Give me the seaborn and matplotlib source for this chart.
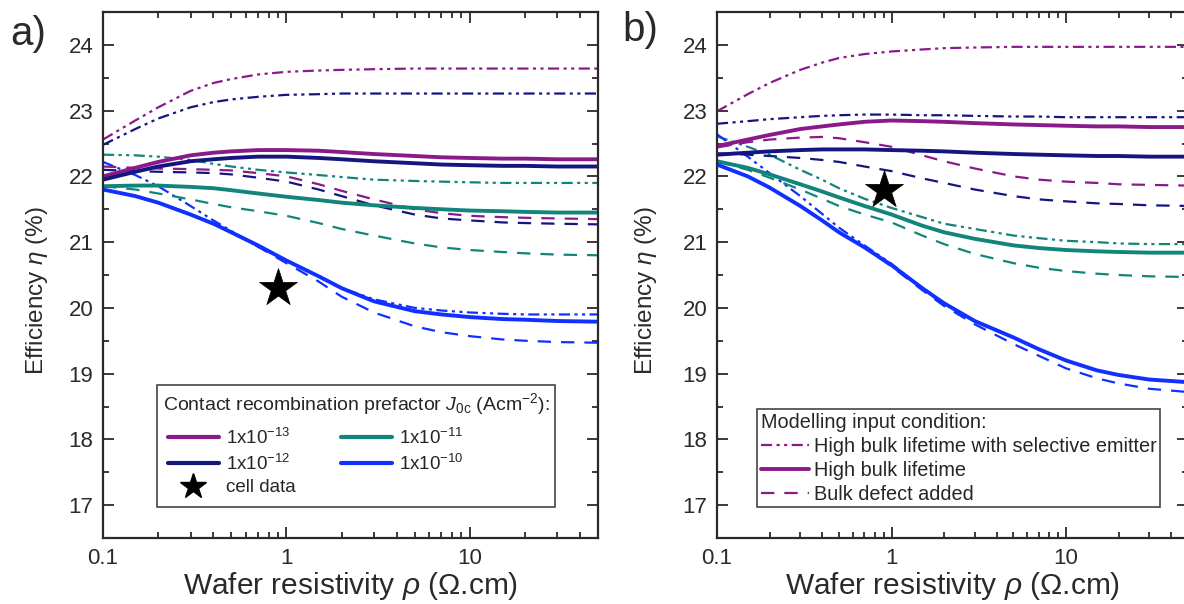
import matplotlib
matplotlib.use("Agg")
import matplotlib.pyplot as plt
from matplotlib.lines import Line2D
from matplotlib.ticker import MultipleLocator, FixedLocator, FixedFormatter, LogLocator, NullFormatter
import seaborn as sns
import pandas as pd

sns.set_theme(style="ticks")
plt.rcParams["font.family"] = ["Liberation Sans", "DejaVu Sans"]
plt.rcParams["mathtext.fontset"] = "custom"
plt.rcParams["mathtext.rm"] = "Liberation Sans"
plt.rcParams["mathtext.it"] = "Liberation Sans:italic"

# ---------------- data ----------------
rho = [0.1, 0.15, 0.2, 0.3, 0.4, 0.5, 0.7, 1, 1.5, 2, 3, 5, 7, 10, 15, 20, 30, 50]

# panel a) : se = high bulk lifetime with selective emitter, hb = high bulk lifetime, bd = bulk defect added
a_se_1e13 = [22.56, 22.85, 23.05, 23.30, 23.42, 23.48, 23.55, 23.59, 23.61, 23.62, 23.63, 23.64, 23.64, 23.64, 23.64, 23.64, 23.64, 23.64]
a_se_1e12 = [22.48, 22.72, 22.88, 23.05, 23.13, 23.17, 23.21, 23.24, 23.25, 23.26, 23.26, 23.26, 23.26, 23.26, 23.26, 23.26, 23.26, 23.26]
a_se_1e11 = [22.33, 22.32, 22.30, 22.25, 22.19, 22.15, 22.10, 22.06, 22.02, 21.99, 21.95, 21.93, 21.92, 21.91, 21.90, 21.90, 21.90, 21.90]
a_se_1e10 = [22.22, 22.02, 21.85, 21.55, 21.33, 21.17, 20.93, 20.72, 20.48, 20.30, 20.13, 20.00, 19.96, 19.93, 19.91, 19.90, 19.90, 19.90]

a_hb_1e13 = [22.00, 22.13, 22.22, 22.32, 22.36, 22.38, 22.40, 22.40, 22.39, 22.37, 22.34, 22.31, 22.29, 22.28, 22.27, 22.27, 22.26, 22.26]
a_hb_1e12 = [21.95, 22.07, 22.15, 22.23, 22.26, 22.28, 22.30, 22.30, 22.28, 22.26, 22.23, 22.20, 22.18, 22.17, 22.16, 22.16, 22.15, 22.15]
a_hb_1e11 = [21.85, 21.86, 21.86, 21.84, 21.82, 21.79, 21.74, 21.69, 21.64, 21.60, 21.56, 21.52, 21.50, 21.48, 21.47, 21.46, 21.45, 21.45]
a_hb_1e10 = [21.80, 21.70, 21.60, 21.42, 21.28, 21.15, 20.95, 20.72, 20.48, 20.30, 20.10, 19.95, 19.90, 19.86, 19.83, 19.82, 19.80, 19.79]

a_bd_1e13 = [22.15, 22.13, 22.12, 22.11, 22.10, 22.09, 22.05, 22.00, 21.88, 21.78, 21.65, 21.50, 21.44, 21.40, 21.38, 21.37, 21.36, 21.35]
a_bd_1e12 = [22.10, 22.08, 22.07, 22.06, 22.05, 22.03, 21.98, 21.92, 21.80, 21.70, 21.56, 21.42, 21.36, 21.33, 21.30, 21.29, 21.28, 21.27]
a_bd_1e11 = [21.85, 21.80, 21.74, 21.65, 21.58, 21.53, 21.47, 21.40, 21.29, 21.20, 21.10, 20.98, 20.92, 20.88, 20.85, 20.83, 20.81, 20.80]
a_bd_1e10 = [21.80, 21.70, 21.60, 21.42, 21.28, 21.15, 20.93, 20.68, 20.40, 20.17, 19.93, 19.72, 19.63, 19.57, 19.52, 19.50, 19.48, 19.47]

# panel b)
b_se_1e13 = [22.99, 23.25, 23.42, 23.62, 23.73, 23.80, 23.86, 23.90, 23.93, 23.95, 23.96, 23.97, 23.97, 23.97, 23.97, 23.97, 23.97, 23.97]
b_se_1e12 = [22.80, 22.84, 22.87, 22.90, 22.92, 22.93, 22.94, 22.94, 22.93, 22.93, 22.92, 22.91, 22.91, 22.90, 22.90, 22.90, 22.90, 22.90]
b_se_1e11 = [22.61, 22.45, 22.33, 22.10, 21.95, 21.82, 21.66, 21.52, 21.38, 21.28, 21.20, 21.10, 21.06, 21.02, 21.00, 20.98, 20.97, 20.97]
b_se_1e10 = [22.64, 22.30, 22.05, 21.70, 21.43, 21.22, 20.95, 20.67, 20.30, 20.07, 19.80, 19.55, 19.37, 19.20, 19.05, 18.98, 18.91, 18.87]

b_hb_1e13 = [22.46, 22.56, 22.63, 22.72, 22.76, 22.79, 22.83, 22.85, 22.84, 22.83, 22.81, 22.79, 22.78, 22.77, 22.76, 22.76, 22.75, 22.75]
b_hb_1e12 = [22.33, 22.36, 22.38, 22.40, 22.41, 22.41, 22.41, 22.40, 22.39, 22.38, 22.36, 22.34, 22.33, 22.32, 22.31, 22.31, 22.30, 22.30]
b_hb_1e11 = [22.23, 22.13, 22.03, 21.88, 21.77, 21.68, 21.55, 21.42, 21.25, 21.15, 21.05, 20.95, 20.91, 20.88, 20.86, 20.85, 20.84, 20.84]
b_hb_1e10 = [22.18, 22.00, 21.83, 21.55, 21.33, 21.15, 20.92, 20.65, 20.30, 20.07, 19.80, 19.55, 19.37, 19.20, 19.05, 18.98, 18.91, 18.87]

b_bd_1e13 = [22.44, 22.52, 22.56, 22.59, 22.60, 22.58, 22.52, 22.45, 22.32, 22.23, 22.12, 22.00, 21.95, 21.92, 21.90, 21.88, 21.87, 21.86]
b_bd_1e12 = [22.35, 22.33, 22.31, 22.28, 22.25, 22.22, 22.15, 22.08, 21.97, 21.90, 21.80, 21.70, 21.65, 21.62, 21.59, 21.58, 21.56, 21.55]
b_bd_1e11 = [22.23, 22.10, 21.98, 21.80, 21.66, 21.55, 21.42, 21.30, 21.10, 20.97, 20.82, 20.68, 20.61, 20.56, 20.52, 20.50, 20.48, 20.47]
b_bd_1e10 = [22.18, 22.00, 21.83, 21.55, 21.33, 21.15, 20.92, 20.63, 20.27, 20.03, 19.75, 19.45, 19.27, 19.08, 18.93, 18.85, 18.77, 18.72]

cell_rho_a = [0.9]
cell_eff_a = [20.3]
cell_rho_b = [0.9]
cell_eff_b = [21.8]

j0c_labels = ["1x10$^{-13}$", "1x10$^{-12}$", "1x10$^{-11}$", "1x10$^{-10}$"]
cond_labels = ["High bulk lifetime with selective emitter", "High bulk lifetime", "Bulk defect added"]
x_ticks = [0.1, 1, 10]
x_ticklabels = ["0.1", "1", "10"]
y_ticks = [17, 18, 19, 20, 21, 22, 23, 24]

# ---------------- style ----------------
colors = ["#8a1a8a", "#15157f", "#12857b", "#1030ff"]
styles = {
    "se": dict(linestyle=(0, (5, 2, 1.4, 2, 1.4, 2)), linewidth=1.6),
    "hb": dict(linestyle="-", linewidth=2.8),
    "bd": dict(linestyle=(0, (6, 4.5)), linewidth=1.6),
}
ink = "#2a2a2a"

W, H = 1184, 604
fig = plt.figure(figsize=(W / 100, H / 100), dpi=100)
ax_a = fig.add_axes([103 / W, (H - 538) / H, 495 / W, 526 / H])
ax_b = fig.add_axes([717 / W, (H - 538) / H, 471 / W, 526 / H])

panel_data = {
    ax_a: {"se": [a_se_1e13, a_se_1e12, a_se_1e11, a_se_1e10],
           "hb": [a_hb_1e13, a_hb_1e12, a_hb_1e11, a_hb_1e10],
           "bd": [a_bd_1e13, a_bd_1e12, a_bd_1e11, a_bd_1e10]},
    ax_b: {"se": [b_se_1e13, b_se_1e12, b_se_1e11, b_se_1e10],
           "hb": [b_hb_1e13, b_hb_1e12, b_hb_1e11, b_hb_1e10],
           "bd": [b_bd_1e13, b_bd_1e12, b_bd_1e11, b_bd_1e10]},
}

for ax, d in panel_data.items():
    for kind in ["se", "bd", "hb"]:
        for series, c in zip(d[kind], colors):
            df = pd.DataFrame({"rho": rho, "eff": series})
            sns.lineplot(data=df, x="rho", y="eff", ax=ax, color=c,
                         estimator=None, sort=False, legend=False,
                         solid_capstyle="butt", dash_capstyle="butt", **styles[kind])

sns.scatterplot(x=cell_rho_a, y=cell_eff_a, ax=ax_a, marker="*", s=820, color="black",
                edgecolor="black", linewidth=0.5, zorder=5, legend=False)
sns.scatterplot(x=cell_rho_b, y=cell_eff_b, ax=ax_b, marker="*", s=820, color="black",
                edgecolor="black", linewidth=0.5, zorder=5, legend=False)

for ax in (ax_a, ax_b):
    ax.set_xscale("log")
    ax.set_xlim(0.1, 50)
    ax.set_ylim(16.5, 24.5)
    ax.xaxis.set_major_locator(FixedLocator(x_ticks))
    ax.xaxis.set_major_formatter(FixedFormatter(x_ticklabels))
    ax.xaxis.set_minor_locator(LogLocator(base=10, subs=range(2, 10)))
    ax.xaxis.set_minor_formatter(NullFormatter())
    ax.yaxis.set_major_locator(FixedLocator(y_ticks))
    ax.yaxis.set_minor_locator(MultipleLocator(0.5))
    ax.tick_params(which="both", direction="in", top=True, right=True,
                   color=ink, labelcolor=ink, width=1.3)
    ax.tick_params(which="major", length=8, labelsize=16, pad=7)
    ax.tick_params(which="minor", length=4.5)
    for s in ax.spines.values():
        s.set_linewidth(1.6)
        s.set_color(ink)
    ax.set_xlabel(r"Wafer resistivity $\it{\rho}$ ($\Omega$.cm)", fontsize=21.5, color=ink, labelpad=1)
    ax.set_ylabel(r"Efficiency $\it{\eta}$ (%)", fontsize=17.5, color=ink)
    ax.grid(False)

ax_a.yaxis.set_label_coords(-0.108, 0.47)
ax_b.yaxis.set_label_coords(-0.124, 0.47)

# legend a)
h_a = [Line2D([], [], color=c, lw=3) for c in colors]
star_h = Line2D([], [], linestyle="none", marker="*", markersize=19, color="black")
handles_a = [h_a[0], h_a[1], star_h, h_a[2], h_a[3]]
labels_a = [j0c_labels[0], j0c_labels[1], "cell data", j0c_labels[2], j0c_labels[3]]
leg_a = ax_a.legend(handles_a, labels_a, ncol=2, loc="lower left", bbox_to_anchor=(0.109, 0.058),
                    title=r"Contact recombination prefactor $\it{J}_{\rm 0c}$ (Acm$^{-2}$):",
                    fontsize=13.5, title_fontsize=14, frameon=True, fancybox=False,
                    edgecolor="#444444", framealpha=1, handlelength=2.7, columnspacing=2.4,
                    labelspacing=0.3, handletextpad=0.4, borderpad=0.3, borderaxespad=0)
leg_a._legend_box.align = "left"
leg_a._legend_handle_box.pad = 4
leg_a.get_frame().set_linewidth(1.2)

# legend b)
handles_b = [Line2D([], [], color=colors[0], **styles["se"]),
             Line2D([], [], color=colors[0], **styles["hb"]),
             Line2D([], [], color=colors[0], **styles["bd"])]
leg_b = ax_b.legend(handles_b, cond_labels, loc="lower left", bbox_to_anchor=(0.085, 0.058),
                    title="Modelling input condition:", fontsize=14.3, title_fontsize=14.3,
                    frameon=True, fancybox=False, edgecolor="#444444", framealpha=1,
                    handlelength=2.4, labelspacing=0.25, handletextpad=0.25,
                    borderpad=0.2, borderaxespad=0)
leg_b._legend_box.align = "left"
leg_b.get_frame().set_linewidth(1.2)

fig.text(10 / W, 1 - 34 / H, "a)", fontsize=29, color=ink, va="center", ha="left")
fig.text(622 / W, 1 - 30 / H, "b)", fontsize=29, color=ink, va="center", ha="left")

fig.savefig("out.png", dpi=100)
